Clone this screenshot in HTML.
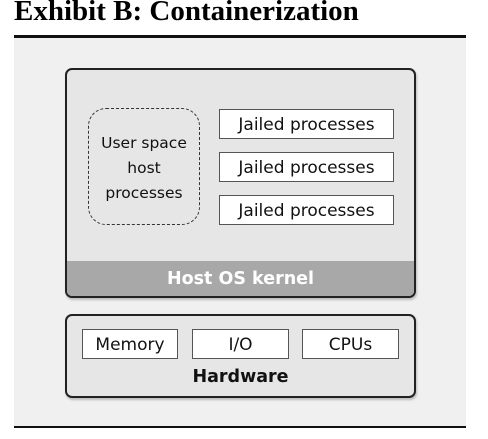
<!DOCTYPE html>
<html><head><style>
body{margin:0;width:488px;height:439px;background:#fff;position:relative;overflow:hidden;font-family:"DejaVu Sans","Liberation Sans",sans-serif}
.a{position:absolute;box-sizing:border-box}
.t{font-family:"Liberation Serif",serif;font-weight:bold;font-size:29px;left:14px;top:-5px;white-space:nowrap}
.box{background:#fff;border:1.5px solid #555;font-size:17px;text-align:center;color:#111}
</style></head><body>
<div class="a t">Exhibit B: Containerization</div>
<div class="a" style="left:14px;top:35px;width:452px;height:3px;background:#111"></div>
<div class="a" style="left:14px;top:38px;width:452px;height:388px;background:#f0f0f0"></div>
<div class="a" style="left:14px;top:426px;width:452px;height:2px;background:#111"></div>

<div class="a" style="left:65px;top:68px;width:351px;height:230px;border:2px solid #222;border-radius:7px;background:#e6e6e6;overflow:hidden;box-shadow:1px 2px 2px #bbb">
 <div class="a" style="left:0;top:191px;width:100%;height:37px;background:#a8a8a8;color:#fff;font-weight:bold;font-size:17.5px;text-align:center;line-height:36px">Host OS kernel</div>
</div>
<div class="a" style="left:88px;top:108px;width:112px;height:117px;border:1.5px dashed #333;border-radius:18px;font-size:15.5px;text-align:center;line-height:25px;padding-top:22px;color:#111">User space<br>host<br>processes</div>
<div class="a box" style="left:219px;top:109px;width:175px;height:30px;line-height:30px">Jailed processes</div>
<div class="a box" style="left:219px;top:152px;width:175px;height:30px;line-height:30px">Jailed processes</div>
<div class="a box" style="left:219px;top:195px;width:175px;height:30px;line-height:30px">Jailed processes</div>

<div class="a" style="left:65px;top:314px;width:351px;height:84px;border:2px solid #222;border-radius:7px;background:#e6e6e6;box-shadow:1px 2px 2px #bbb"></div>
<div class="a box" style="left:82px;top:329px;width:96px;height:30px;line-height:30px">Memory</div>
<div class="a box" style="left:192px;top:329px;width:97px;height:30px;line-height:30px">I/O</div>
<div class="a box" style="left:302px;top:329px;width:97px;height:30px;line-height:30px">CPUs</div>
<div class="a" style="left:65px;top:367px;width:351px;text-align:center;font-weight:bold;font-size:17.5px;color:#111">Hardware</div>
</body></html>
